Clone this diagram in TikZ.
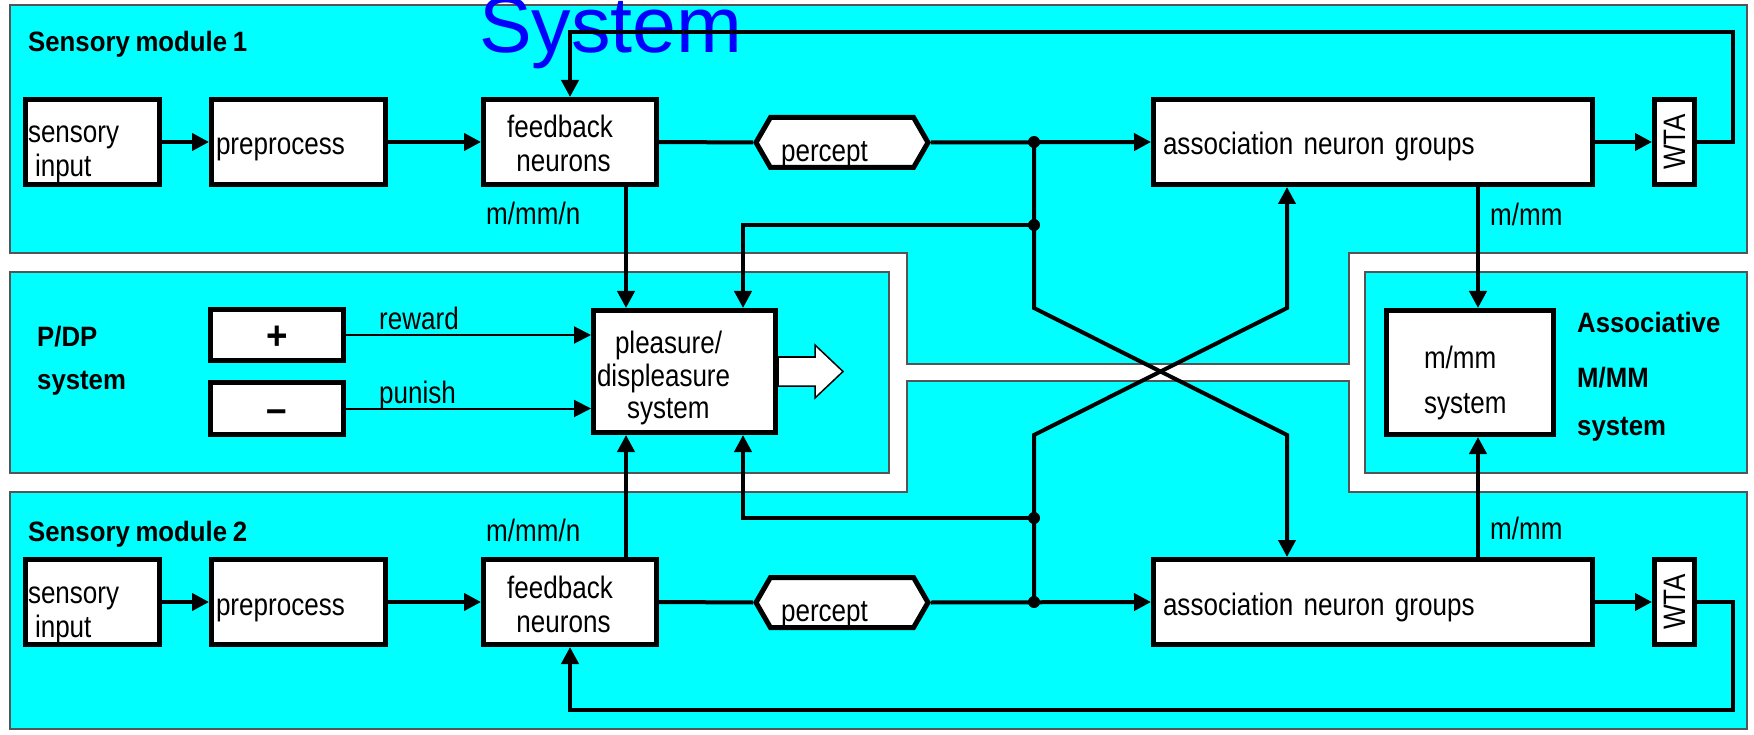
\documentclass[tikz,border=0pt]{standalone}
\usepackage{fontspec}
\setmainfont{Liberation Sans}[FakeStretch=0.84, WordSpace=0.7]
\newfontfamily\headfont{Liberation Sans}[FakeStretch=0.92, WordSpace=0.8]
\newfontfamily\titlefont{Liberation Sans}
\usetikzlibrary{arrows.meta,shapes.symbols,calc}

\definecolor{panelcyan}{RGB}{0,255,255}
\definecolor{panelrim}{RGB}{85,85,85}

% invisible struts that fix the height of a first line and the depth of a last line
\newcommand\tstr[1]{\rule{0pt}{#1}}
\newcommand\bstr[1]{\rule[-#1]{0pt}{#1}}
% a single line set with its baseline a given distance below the node centre
\newcommand\lowered[2]{\smash{\raisebox{-#1}{#2}}}

\tikzset{
  panel/.style={fill=panelcyan, draw=panelrim, line width=1.5pt},
  txt/.style={font=\fontsize{31}{34}\selectfont},
  box/.style={txt, draw=black, fill=white, line width=5pt, inner sep=0pt},
  sign/.style={box, font=\headfont\bfseries\fontsize{40}{40}\selectfont},
  perceptbox/.style={box, signal, signal to=west and east, signal pointer angle=120,
    minimum width=172pt, minimum height=50pt},
  conn/.style={line width=4pt, draw=black},
  arr/.style={conn, -{Triangle[length=17pt,width=17pt]}},
  thinarr/.style={line width=2pt, -{Triangle[length=17pt,width=17pt]}},
  dot/.style={circle, fill=black, inner sep=0pt, minimum size=12pt},
  lbl/.style={txt, anchor=base west, inner sep=0pt},
  head/.style={lbl, font=\headfont\bfseries\fontsize{28}{34}\selectfont},
  hollow/.style={draw=black, line width=1.5pt, fill=white},
}

\begin{document}
\begin{tikzpicture}[x=1pt,y=-1pt]
\useasboundingbox (0,0) rectangle (1754,735);
\fill[white] (0,0) rectangle (1754,735);

% panels
\draw[panel] (10,5) -- (1747,5) -- (1747,253) -- (1349,253) -- (1349,364)
  -- (907,364) -- (907,253) -- (10,253) -- cycle;
\draw[panel] (10,492) -- (907,492) -- (907,381) -- (1349,381) -- (1349,492)
  -- (1747,492) -- (1747,729) -- (10,729) -- cycle;
\draw[panel] (10,272) rectangle (889,473);
\draw[panel] (1365,272) rectangle (1747,473);

% title
\node[anchor=base west, inner sep=0pt, text=blue, font=\titlefont\fontsize{79}{80}\selectfont] (sys) at (479,53) {System};

% panel headings
\node[head] (h1) at (28,52) {Sensory module 1};
\node[head] (h2) at (28,541) {Sensory module 2};
\node[head] (h3) at (37,347) {P/DP};
\node[head] (h4) at (37,389) {system};
\node[head] (h5) at (1577,333) {Associative};
\node[head] (h6) at (1577,388) {M/MM};
\node[head] (h7) at (1577,435) {system};

% small labels
\node[lbl] (m1) at (486,225) {m/mm/n};
\node[lbl] (m2) at (486,541) {m/mm/n};
\node[lbl] (m3) at (1490,226) {m/mm};
\node[lbl] (m4) at (1490,539) {m/mm};
\node[lbl] (rw) at (379,330) {reward};
\node[lbl] (pn) at (379,403) {punish};

% sensory module 1
\node[box, minimum width=134pt, minimum height=85pt, text width=129pt, inner xsep=2.5pt, align=left] (si1) at (92.5,142)
  {\tstr{43pt}sensory\\\hspace*{7pt}input\bstr{7pt}};
\node[box, minimum width=174pt, minimum height=85pt, text width=165pt, inner xsep=4.5pt, align=left] (pp1) at (298.5,142)
  {\lowered{13pt}{preprocess}};
\node[box, minimum width=173pt, minimum height=85pt, align=center] (fb1) at (570,142)
  {\tstr{33pt}feedback\hspace*{20pt}\\neurons\hspace*{13pt}\bstr{7pt}};
\node[perceptbox] (p1) at (842,142.5) {\lowered{19pt}{percept}\hspace*{35pt}};
\node[box, minimum width=439pt, minimum height=85pt, text width=420pt, inner xsep=9.5pt, align=left] (an1) at (1373,142)
  {\lowered{13pt}{association neuron groups}};
\node[box, minimum width=40pt, minimum height=85pt] (wta1) at (1674.5,142) {\rotatebox{90}{WTA}};

% sensory module 2
\node[box, minimum width=134pt, minimum height=85pt, text width=129pt, inner xsep=2.5pt, align=left] (si2) at (92.5,602)
  {\tstr{43pt}sensory\\\hspace*{7pt}input\bstr{7pt}};
\node[box, minimum width=174pt, minimum height=85pt, text width=165pt, inner xsep=4.5pt, align=left] (pp2) at (298.5,602)
  {\lowered{13pt}{preprocess}};
\node[box, minimum width=173pt, minimum height=85pt, align=center] (fb2) at (570,602)
  {\tstr{33pt}feedback\hspace*{20pt}\\neurons\hspace*{13pt}\bstr{7pt}};
\node[perceptbox] (p2) at (842,602.5) {\lowered{19pt}{percept}\hspace*{35pt}};
\node[box, minimum width=439pt, minimum height=85pt, text width=420pt, inner xsep=9.5pt, align=left] (an2) at (1373,602)
  {\lowered{13pt}{association neuron groups}};
\node[box, minimum width=40pt, minimum height=85pt] (wta2) at (1674.5,602) {\rotatebox{90}{WTA}};

% pleasure / displeasure system
\node[sign, minimum width=133pt, minimum height=51pt] (plus) at (277,335) {\lowered{14pt}{+}};
\node[sign, minimum width=133pt, minimum height=52pt] (minus) at (277,408.5) {\lowered{14pt}{–}};
\node[box, minimum width=182pt, minimum height=122pt, text width=175pt, inner xsep=3.5pt, align=left,
  font=\fontsize{31}{33}\selectfont] (pds) at (684.5,371.5)
  {\tstr{36pt}\hspace*{18pt}pleasure/\\displeasure\\\hspace*{30pt}system\bstr{7pt}};
\draw[hollow] ($(pds.east)+(0,-14.5)$) -- ++(37,0) -- ++(0,-12) -- ++(28,26.5)
  -- ++(-28,26.5) -- ++(0,-12) -- ++(-37,0) -- cycle;

% associative m/mm system
\node[box, minimum width=167pt, minimum height=124pt, text width=92pt, inner xsep=37.5pt, align=left,
  font=\fontsize{31}{45}\selectfont] (mm) at (1470,372.5)
  {\tstr{43pt}m/mm\\system\bstr{7pt}};

% routing points
\coordinate (fbk1) at (1733,32);
\coordinate (fbk2) at (1733,710);
\coordinate (xa) at (626,0);
\coordinate (xb) at (743,0);
\coordinate (xd) at (1478,0);
\coordinate (c1) at (1034,308);
\coordinate (c2) at (1287,435);
\coordinate (c3) at (1034,435);
\coordinate (c4) at (1287,308);
\coordinate (j1) at (1034,142);
\coordinate (j2) at (1034,225);
\coordinate (j3) at (1034,518);
\coordinate (j4) at (1034,602);

% module 1 chain
\draw[arr] (si1.east) -- (pp1.west);
\draw[arr] (pp1.east) -- (fb1.west);
\draw[conn] (fb1.east) -- (p1.west);
\draw[arr] (p1.east) -- (an1.west);
\draw[arr] (an1.east) -- (wta1.west);
\draw[arr] (wta1.east) -| (fbk1) -| (fb1.north);

% module 2 chain
\draw[arr] (si2.east) -- (pp2.west);
\draw[arr] (pp2.east) -- (fb2.west);
\draw[conn] (fb2.east) -- (p2.west);
\draw[arr] (p2.east) -- (an2.west);
\draw[arr] (an2.east) -- (wta2.west);
\draw[arr] (wta2.east) -| (fbk2) -| (fb2.south);

% into the pleasure / displeasure system
\draw[arr] (fb1.south -| xa) -- (pds.north -| xa);
\draw[arr] (fb2.north -| xa) -- (pds.south -| xa);
\draw[arr] (j2) -| (pds.north -| xb);
\draw[arr] (j3) -| (pds.south -| xb);
\draw[thinarr] (plus.east) -- (pds.west |- plus.east);
\draw[thinarr] (minus.east) -- (pds.west |- minus.east);

% cross links between the modules
\draw[arr] (j1) -- (c1) -- (c2) -- (an2.north -| c2);
\draw[arr] (j4) -- (c3) -- (c4) -- (an1.south -| c4);

% to the associative system
\draw[arr] (an1.south -| xd) -- (mm.north -| xd);
\draw[arr] (an2.north -| xd) -- (mm.south -| xd);

% junction dots
\node[dot] (d1) at (j1) {};
\node[dot] (d2) at (j2) {};
\node[dot] (d3) at (j3) {};
\node[dot] (d4) at (j4) {};
\end{tikzpicture}
\end{document}
